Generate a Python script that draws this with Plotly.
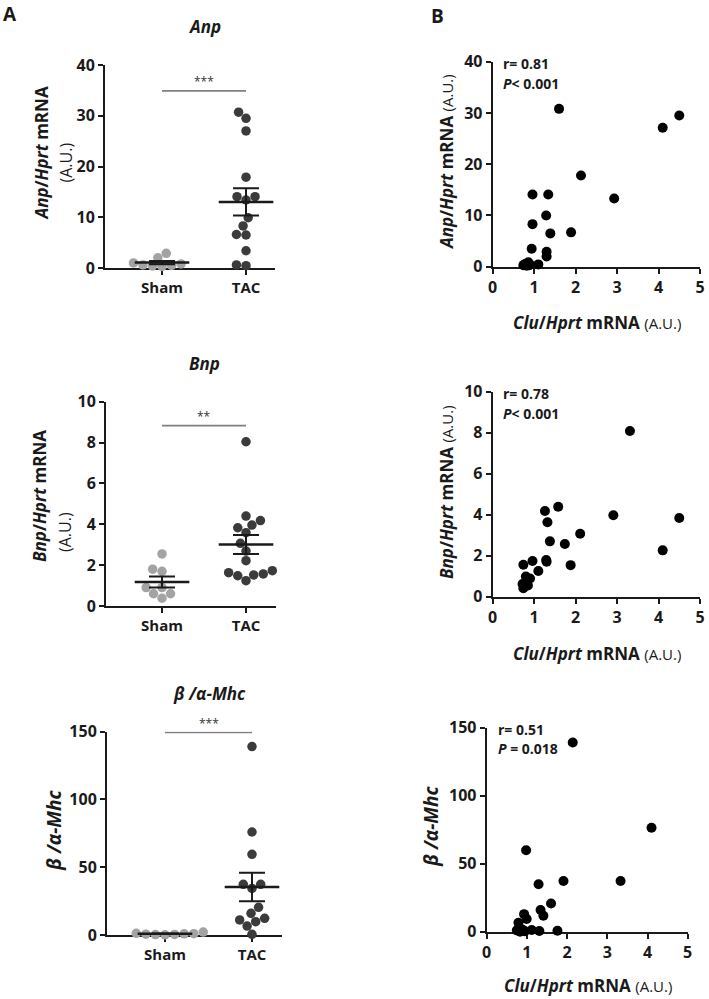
import numpy as np
import plotly.graph_objects as go

# ---------------- data ----------------
groups = ["Sham", "TAC"]

sham_anp = [0.5, 0.3, 0.6, 2.9, 0.4, 0.8, 1.0, 2.0]
tac_anp = [30.7, 29.5, 27.0, 17.9, 14.05, 13.4, 14.05, 9.9, 8.3, 6.5, 6.6, 3.4, 0.45, 0.6]

sham_bnp = [2.55, 1.8, 1.7, 0.9, 0.6, 0.38, 0.6, 0.9]
tac_bnp = [8.04, 4.4, 3.96, 4.18, 3.83, 3.59, 3.07, 2.69, 2.22, 1.63, 1.52, 1.24, 1.48, 1.57, 1.73]

sham_mhc = [1.2, 1.0, 0.6, 0.3, 0.1, 0.4, 0.9, 2.2]
tac_mhc = [139, 76, 59.5, 37.4, 34.4, 37.4, 20.4, 16, 12.3, 9.8, 11.1, 6.6, 0.5]

clu_anp = [1.60, 4.50, 4.10, 2.13, 2.93, 0.96, 1.34, 1.29, 0.96, 1.39, 1.89, 0.94, 1.30, 1.30,
           1.10, 0.86, 0.74, 0.78, 0.82, 0.90, 0.80, 0.88]
anp_vs_clu = [30.8, 29.5, 27.1, 17.8, 13.3, 14.1, 14.1, 10.0, 8.3, 6.5, 6.7, 3.5, 2.9, 2.0,
              0.45, 0.85, 0.3, 0.5, 0.2, 0.4, 0.6, 0.3]

clu_bnp = [3.31, 1.58, 1.26, 1.32, 2.91, 4.50, 1.38, 2.11, 1.74, 4.10, 1.29, 1.30, 0.96, 1.88,
           0.74, 1.10, 0.80, 0.90, 0.82, 0.72, 0.74, 0.85]
bnp_vs_clu = [8.08, 4.39, 4.18, 3.63, 3.97, 3.84, 2.70, 3.07, 2.57, 2.26, 1.79, 1.71, 1.74, 1.54,
              1.56, 1.25, 0.98, 0.89, 0.65, 0.62, 0.41, 0.55]

clu_mhc = [2.14, 4.10, 0.98, 1.91, 3.33, 1.29, 1.60, 1.34, 1.41, 0.93, 0.995, 0.79, 0.79, 0.90,
           1.12, 1.31, 1.76, 0.75, 0.83, 0.95, 0.86]
mhc_vs_clu = [139, 76.3, 59.8, 37.3, 37.3, 34.9, 20.7, 15.9, 11.7, 12.9, 9.3, 6.6, 1.7, 1.2,
              1.2, 0.5, 0.7, 1.0, 0.0, 0.3, 2.0]

sig_labels = ["***", "**", "***"]
sig_levels = [34.9, 8.83, 149.5]
corr_r = ["0.81", "0.78", "0.51"]
corr_p = ["<i>P</i>< 0.001", "<i>P</i>< 0.001", "<i>P</i> = 0.018"]

# ---------------- styling / layout ----------------
W, H = 709, 999
FONT = "Open Sans"
SHAM_C = "#a3a3a3"
TAC_C = "#3b3b3b"
TXT = "#1a1a1a"


def px_dom_x(a, b):
    return [a / W, b / W]


def px_dom_y(top, bottom):
    return [1 - bottom / H, 1 - top / H]


def bold_ticks(vmax, step):
    vals = list(np.arange(0, vmax + step / 2, step))
    return dict(tickvals=vals, ticktext=[f"<b>{v:g}</b>" for v in vals])


def swarm(values, px_per_y, px_per_x, d):
    vals = np.asarray(values, float)
    order = np.argsort(vals)
    placed = []
    offs = np.zeros(len(vals))
    for i in order:
        y = vals[i] * px_per_y
        cands = [0.0]
        for xp, yp in placed:
            dv = abs(y - yp)
            if dv < d:
                h = np.sqrt(d * d - dv * dv)
                cands += [xp + h, xp - h]
        cands.sort(key=lambda c: (abs(c), c))
        chosen = cands[-1]
        for c in cands:
            if all((c - xp) ** 2 + (y - yp) ** 2 >= d * d - 1e-6 for xp, yp in placed):
                chosen = c
                break
        placed.append((chosen, y))
        offs[i] = chosen / px_per_x
    return offs


fig = go.Figure()
layout = dict(
    width=W, height=H, margin=dict(l=0, r=0, t=0, b=0, pad=0, autoexpand=False),
    paper_bgcolor="white", plot_bgcolor="white", showlegend=False,
    font=dict(family=FONT, color=TXT),
)
annotations = []

axis_common = dict(showgrid=False, zeroline=False, showline=True, linecolor=TXT, linewidth=2,
                   ticks="outside", ticklen=5, tickwidth=2, tickcolor=TXT, layer="below traces",
                   tickfont=dict(family=FONT, size=16, color=TXT), ticklabeloverflow="allow",
                   automargin=False)

left_panels = [
    (sham_anp, tac_anp, 40, 10, (105, 275), (65, 268), (-0.679, 1.345)),
    (sham_bnp, tac_bnp, 10, 2, (106, 276), (401.7, 606), (-0.667, 1.357)),
    (sham_mhc, tac_mhc, 150, 50, (107, 282), (731.7, 935), (-0.667, 1.345)),
]

for k, (sh, tc, ymax, dt, xp, yp, xr) in enumerate(left_panels):
    n = k + 1
    xa, ya = f"xaxis{n}", f"yaxis{n}"
    xr_ref, yr_ref = f"x{n}", f"y{n}"
    layout[xa] = dict(axis_common, domain=px_dom_x(*xp), range=list(xr), anchor=yr_ref,
                      tickvals=[0, 1], ticktext=[f"<b>{g}</b>" for g in groups],
                      tickfont=dict(family=FONT, size=15, color=TXT))
    layout[ya] = dict(axis_common, domain=px_dom_y(*yp), range=[0, ymax], anchor=xr_ref,
                      **bold_ticks(ymax, dt))
    ppy = (yp[1] - yp[0]) / ymax
    ppx = (xp[1] - xp[0]) / (xr[1] - xr[0])
    for gi, (vals, col) in enumerate([(sh, SHAM_C), (tc, TAC_C)]):
        offs = swarm(vals, ppy, ppx, 9.6)
        fig.add_trace(go.Scatter(
            x=gi + offs, y=vals, mode="markers", xaxis=xr_ref, yaxis=yr_ref,
            marker=dict(size=9.5, color=col, line=dict(width=0)), cliponaxis=False,
            hoverinfo="skip"))
        arr = np.asarray(vals, float)
        mean = arr.mean()
        sem = arr.std(ddof=1) / np.sqrt(len(arr))
        fig.add_trace(go.Scatter(
            x=[gi], y=[mean], mode="markers", xaxis=xr_ref, yaxis=yr_ref,
            marker=dict(symbol="line-ew-open", size=39, color=TXT,
                        line=dict(width=2.5, color=TXT)),
            error_y=dict(type="data", array=[sem], visible=True, width=13, thickness=2,
                         color=TXT),
            cliponaxis=False, hoverinfo="skip"))
    fig.add_trace(go.Scatter(
        x=[0, 1], y=[sig_levels[k]] * 2, mode="lines", xaxis=xr_ref, yaxis=yr_ref,
        line=dict(color="#7f7f7f", width=1.8), cliponaxis=False, hoverinfo="skip"))
    annotations.append(dict(x=0.5, y=sig_levels[k], xref=xr_ref, yref=yr_ref, text=sig_labels[k],
                            showarrow=False, yshift=9, font=dict(family=FONT, size=12, color="#333"),
                            xanchor="center", yanchor="middle"))

right_panels = [
    (clu_anp, anp_vs_clu, 40, 10, (492.7, 700), (61.7, 266.7)),
    (clu_bnp, bnp_vs_clu, 10, 2, (492.7, 700), (391.7, 596.7)),
    (clu_mhc, mhc_vs_clu, 150, 50, (486.7, 687.7), (727.5, 931.7)),
]
for k, (xs, ys, ymax, dt, xp, yp) in enumerate(right_panels):
    n = k + 4
    xa, ya = f"xaxis{n}", f"yaxis{n}"
    xr_ref, yr_ref = f"x{n}", f"y{n}"
    layout[xa] = dict(axis_common, domain=px_dom_x(*xp), range=[0, 5], anchor=yr_ref,
                      **bold_ticks(5, 1))
    layout[ya] = dict(axis_common, domain=px_dom_y(*yp), range=[0, ymax], anchor=xr_ref,
                      **bold_ticks(ymax, dt))
    fig.add_trace(go.Scatter(
        x=xs, y=ys, mode="markers", xaxis=xr_ref, yaxis=yr_ref,
        marker=dict(size=10, color="#000000", line=dict(width=0)), cliponaxis=False,
        hoverinfo="skip"))


def ann(x, y, text, size, angle=0, xanchor="center"):
    annotations.append(dict(x=x / W, y=1 - y / H, xref="paper", yref="paper", text=text,
                            showarrow=False, textangle=angle, xanchor=xanchor, yanchor="middle",
                            font=dict(family=FONT, size=size, color=TXT)))


ann(10, 14, "<b>A</b>", 19)
ann(437, 16, "<b>B</b>", 19)

ann(204, 27, "<b><i>Anp</i></b>", 17)
ann(204, 363, "<b><i>Bnp</i></b>", 17)
ann(209, 693, "<b><i>β /α-Mhc</i></b>", 17)

ann(41.5, 154, "<b><i>Anp</i>/<i>Hprt</i> mRNA</b>", 17, -90)
ann(65.5, 163, "(A.U.)", 16, -90)
ann(39, 496, "<b><i>Bnp</i>/<i>Hprt</i> mRNA</b>", 17, -90)
ann(65, 532, "(A.U.)", 16, -90)
ann(54, 830, "<b><i>β /α-Mhc</i></b>", 19, -90)

ann(446, 162, "<b><i>Anp</i>/<i>Hprt</i> mRNA</b> <span style='font-size:15px'>(A.U.)</span>", 17, -90)
ann(446, 492, "<b><i>Bnp</i>/<i>Hprt</i> mRNA</b> <span style='font-size:15px'>(A.U.)</span>", 17, -90)
ann(431, 826, "<b><i>β /α-Mhc</i></b>", 19, -90)

xt = "<b><i>Clu</i>/<i>Hprt</i> mRNA</b> <span style='font-size:15px'>(A.U.)</span>"
ann(597, 323, xt, 17)
ann(597, 653, xt, 17)
ann(588, 985, xt, 17)

stat_pos = [(501, 63, 83), (501, 393, 413), (496, 729, 748)]
for (sx, ry, py), r, p in zip(stat_pos, corr_r, corr_p):
    ann(sx, ry, f"<b>r= {r}</b>", 14, xanchor="left")
    ann(sx, py, f"<b>{p}</b>", 14, xanchor="left")

layout["annotations"] = annotations
fig.update_layout(**layout)

pin = ("document.documentElement.style.margin='0';document.documentElement.style.padding='0';"
       "document.body.style.margin='0';document.body.style.padding='0';"
       "document.body.style.overflow='hidden';"
       "var gd=document.getElementById('{plot_id}');"
       "gd.style.position='absolute';gd.style.left='0px';gd.style.top='0px';")
fig.write_html("out.html", post_script=pin, config={"displayModeBar": False})
